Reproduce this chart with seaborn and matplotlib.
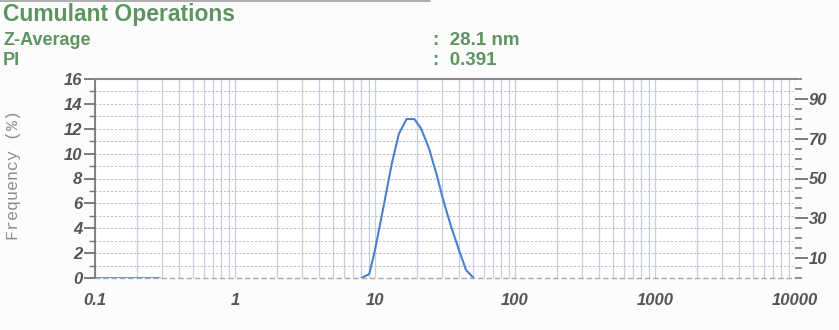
import matplotlib
matplotlib.use("Agg")
import matplotlib.pyplot as plt
import seaborn as sns
import numpy as np
import pandas as pd
from matplotlib.ticker import LogLocator, FixedLocator, NullFormatter, FixedFormatter

# ---- data ----
size_nm = [8.0, 9.1, 10.0, 11.5, 13.2, 14.8, 16.8, 19.1, 21.3, 24.3, 27.6, 30.7,
           34.7, 39.4, 44.7, 50.4]
freq_pct = [0.0, 0.32, 2.25, 5.73, 9.22, 11.58, 12.78, 12.78, 12.03, 10.43, 8.28,
            6.27, 4.26, 2.39, 0.64, 0.02]
zero_size_nm = [0.1, 0.29]
zero_freq_pct = [0.0, 0.0]
x_tick_vals = [0.1, 1, 10, 100, 1000, 10000]
x_tick_labels = ["0.1", "1", "10", "100", "1000", "10000"]
y_tick_vals = [0, 2, 4, 6, 8, 10, 12, 14, 16]
right_tick_vals = [10, 30, 50, 70, 90]
title = "Cumulant Operations"
param_names = ["Z-Average", "PI"]
param_values = [":  28.1 nm", ":  0.391"]
y_label = "Frequency (%)"

df = pd.DataFrame({"size": size_nm, "freq": freq_pct})
df0 = pd.DataFrame({"size": zero_size_nm, "freq": zero_freq_pct})

sns.set_theme(style="white")
plt.rcParams["font.family"] = ["Liberation Sans", "DejaVu Sans"]
plt.rcParams["font.weight"] = "bold"
plt.rcParams["font.style"] = "italic"

W, H = 839, 330
fig = plt.figure(figsize=(W / 100, H / 100), dpi=100)
fig.patch.set_facecolor("#fcfcfc")
ax = fig.add_axes([95 / W, 1 - 278 / H, 700 / W, 199 / H])
ax.set_facecolor("white")

line_col = "#4a80d2"
sns.lineplot(data=df, x="size", y="freq", ax=ax, color=line_col, lw=1.5, sort=False)
sns.lineplot(data=df0, x="size", y="freq", ax=ax, color=line_col, lw=1.2, sort=False)

ax.set_xscale("log")
ax.set_xlim(0.1, 10000)
ax.set_ylim(0, 16)

ax.xaxis.set_major_locator(FixedLocator(x_tick_vals))
ax.xaxis.set_major_formatter(FixedFormatter(x_tick_labels))
ax.xaxis.set_minor_locator(LogLocator(base=10, subs=np.arange(2, 10)))
ax.xaxis.set_minor_formatter(NullFormatter())
ax.yaxis.set_major_locator(FixedLocator(y_tick_vals))
ax.yaxis.set_minor_locator(FixedLocator(np.arange(1, 16, 2)))
ax.grid(True, which="both", axis="x", color="#c6cfdc", lw=0.9)
ax.grid(True, which="both", axis="y", color="#b8b8b8", lw=0.7, ls=(0, (2, 2)))
ax.set_axisbelow(True)

ax.tick_params(axis="x", which="major", direction="out", length=9, width=1.2,
               color="#666666", pad=2, labelsize=12, labelcolor="#555555")
ax.tick_params(axis="x", which="minor", direction="out", length=5, width=1.0,
               color="#777777")
ax.tick_params(axis="y", which="major", direction="out", length=8, width=1.2,
               color="#666666", pad=1, labelsize=12, labelcolor="#555555")
ax.tick_params(axis="y", which="minor", direction="out", length=4, width=1.0,
               color="#777777")

ax.spines["left"].set_color("#707070")
ax.spines["left"].set_linewidth(1.2)
ax.spines["top"].set_color("#8a8a8a")
ax.spines["top"].set_linewidth(1.5)
ax.spines["bottom"].set_color("#aaaaaa")
ax.spines["bottom"].set_linewidth(1.0)
ax.spines["bottom"].set_linestyle((0, (3, 3)))
ax.spines["right"].set_visible(False)

ax.set_xlabel("")
ax.set_ylabel("")
fig.text(14 / W, 1 - 175 / H, y_label, family="Liberation Mono", fontsize=12,
         color="#8c8c8c", fontweight="normal", fontstyle="normal",
         rotation=90, ha="center", va="center")

# right axis
ax2 = ax.twinx()
ax2.set_ylim(0, 100)
ax2.yaxis.set_major_locator(FixedLocator(right_tick_vals))
ax2.yaxis.set_minor_locator(FixedLocator(np.arange(0, 101, 5)))
ax2.tick_params(axis="y", which="major", direction="out", length=9, width=1.2,
                color="#666666", pad=1, labelsize=12, labelcolor="#555555")
ax2.tick_params(axis="y", which="minor", direction="out", length=5, width=1.2,
                color="#777777")
for s in ["left", "right", "top", "bottom"]:
    ax2.spines[s].set_visible(False)
ax2.grid(False)

# header
green = "#5e9460"
hdr = dict(fontweight="bold", fontstyle="normal", color=green, va="baseline", ha="left")
fig.add_artist(plt.Line2D([0, 430 / W], [1 - 1 / H, 1 - 1 / H], color="#a0a0a0", lw=1.2))
fig.text(3 / W, 1 - 21 / H, title, fontsize=16.5, **hdr)
fig.text(3 / W, 1 - 45 / H, param_names[0], fontsize=13, **hdr)
fig.text(3 / W, 1 - 65 / H, param_names[1], fontsize=13, **hdr)
fig.text(433 / W, 1 - 45 / H, param_values[0], fontsize=13.5, **hdr)
fig.text(433 / W, 1 - 65 / H, param_values[1], fontsize=13.5, **hdr)

fig.savefig("out.png", dpi=100, facecolor=fig.get_facecolor())
